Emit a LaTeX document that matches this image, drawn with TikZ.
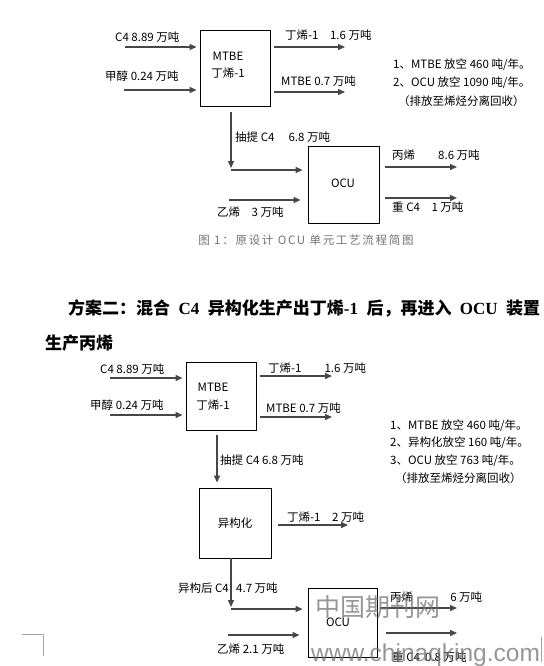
\documentclass[tikz,border=0pt]{standalone}
\usepackage{fontspec}
\setmainfont{Noto Sans CJK SC}
\newfontfamily\cjk{Noto Sans CJK SC}
\newfontfamily\capfont[LetterSpace=15]{Noto Sans CJK SC}
\newfontfamily\lserif{Liberation Serif}
\newfontfamily\wmfont{Liberation Sans}
\usetikzlibrary{arrows.meta}
\tikzset{
  txt/.style={inner sep=0pt, font=\cjk\fontsize{11.5}{13}\selectfont},
  box/.style={draw=black, line width=0.9pt, inner sep=0pt},
  flow/.style={draw=black!72, line width=1.4pt, -{Triangle[length=7pt,width=6pt]}},
  cornermark/.style={draw=black!35, line width=0.6pt},
  hd/.style={inner sep=0pt, font=\fontsize{17}{19}\selectfont\bfseries},
  wm/.style={inner sep=0pt, text=black!55, text opacity=0.75}
}
\begin{document}
\begin{tikzpicture}[x=1pt,y=-1pt]
\useasboundingbox (0,0) rectangle (543,666);
\fill[white] (0,0) rectangle (543,666);

% ===================== Figure 1 =====================
\node[box, minimum width=70pt, minimum height=76pt] (mtbeA) at (235,68) {};
\node[txt] (mtbeAt1) at (228,56) {MTBE};
\node[txt] (mtbeAt2) at (228,73) {丁烯-1};

\coordinate (aIn1) at (125,47);
\coordinate (aIn2) at (124,90);
\draw[flow, shorten >=3pt] (aIn1) -- (aIn1 -| mtbeA.west);
\draw[flow, shorten >=3pt] (aIn2) -- (aIn2 -| mtbeA.west);
\node[txt, anchor=west] (aL1) at (115,37) {C4 8.89 万吨};
\node[txt, anchor=west] (aL2) at (105,76) {甲醇 0.24 万吨};

\coordinate (aOut1) at (345,47);
\coordinate (aOut2) at (345,92);
\draw[flow, shorten <=4pt] (aOut1 -| mtbeA.east) -- (aOut1);
\draw[flow, shorten <=4pt] (aOut2 -| mtbeA.east) -- (aOut2);
\node[txt, anchor=west] (aL3) at (285,35) {丁烯-1\quad 1.6 万吨};
\node[txt, anchor=west] (aL4) at (281,81) {MTBE 0.7 万吨};

\node[box, minimum width=71pt, minimum height=77pt] (ocuA) at (343.5,184.5) {};
\node[txt] (ocuAt) at (343,183) {OCU};

\coordinate (aV1) at (231,112);
\coordinate (aV2) at (231,168);
\draw[flow] (aV1) -- (aV2);
\coordinate (aH1) at (231,170);
\draw[flow, shorten >=5pt] (aH1) -- (aH1 -| ocuA.west);
\node[txt, anchor=west] (aL5) at (235,137) {抽提 C4\quad\ 6.8 万吨};

\coordinate (aE) at (229,200);
\draw[flow, shorten >=7pt] (aE) -- (aE -| ocuA.west);
\node[txt, anchor=west] (aL6) at (217,212) {乙烯\quad 3 万吨};

\coordinate (aP) at (457,167);
\coordinate (aQ) at (457,198);
\draw[flow, shorten <=6pt] (aP -| ocuA.east) -- (aP);
\draw[flow, shorten <=6pt] (aQ -| ocuA.east) -- (aQ);
\node[txt, anchor=west] (aL7) at (392,155) {丙烯\qquad 8.6 万吨};
\node[txt, anchor=west] (aL8) at (392,207) {重 C4\quad 1 万吨};

\node[inner sep=0pt, text=black!55, font=\capfont\fontsize{11.5}{13}\selectfont] (capA) at (306,240) {图 1：原设计 OCU 单元工艺流程简图};

\node[txt, anchor=west] (nA1) at (393,65) {1、MTBE 放空 460 吨/年。};
\node[txt, anchor=west] (nA2) at (393,83) {2、OCU 放空 1090 吨/年。};
\node[txt, anchor=west] (nA3) at (398,101) {（排放至烯烃分离回收）};

% ===================== Heading =====================
\node[hd, anchor=west] (head1) at (68,308) {\makebox[472pt][s]{\cjk 方案二：混合 {\lserif C4} 异构化生产出丁烯{\lserif -1} 后，再进入 {\lserif OCU} 装置}};
\node[hd, anchor=west] (head2) at (45,343) {\cjk 生产丙烯};

% ===================== Figure 2 =====================
\node[box, minimum width=70pt, minimum height=68pt] (mtbeB) at (221,396) {};
\node[txt] (mtbeBt1) at (213,387) {MTBE};
\node[txt] (mtbeBt2) at (213,405) {丁烯-1};

\coordinate (bIn1) at (110,378);
\coordinate (bIn2) at (110,415);
\draw[flow, shorten >=3pt] (bIn1) -- (bIn1 -| mtbeB.west);
\draw[flow, shorten >=3pt] (bIn2) -- (bIn2 -| mtbeB.west);
\node[txt, anchor=west] (bL1) at (100,369) {C4 8.89 万吨};
\node[txt, anchor=west] (bL2) at (90,405) {甲醇 0.24 万吨};

\coordinate (bOut1) at (332,376);
\coordinate (bOut2) at (332,417);
\draw[flow, shorten <=4pt] (bOut1 -| mtbeB.east) -- (bOut1);
\draw[flow, shorten <=4pt] (bOut2 -| mtbeB.east) -- (bOut2);
\node[txt, anchor=west] (bL3) at (268,368) {丁烯-1\qquad 1.6 万吨};
\node[txt, anchor=west] (bL4) at (266,408) {MTBE 0.7 万吨};

\node[box, minimum width=72pt, minimum height=70pt] (iso) at (235,523) {};
\node[txt] (isot) at (235,523) {异构化};

\coordinate (bV1) at (217,435);
\draw[flow, shorten >=5pt] (bV1) -- (bV1 |- iso.north);
\node[txt, anchor=west] (bL5) at (220,460) {抽提 C4 6.8 万吨};

\coordinate (bIso) at (348,525);
\draw[flow, shorten <=7pt] (bIso -| iso.east) -- (bIso);
\node[txt, anchor=west] (bL6) at (287,517) {丁烯-1\quad 2 万吨};

\node[box, minimum width=69pt, minimum height=69pt] (ocuB) at (342.5,622.5) {};
\node[txt] (ocuBt) at (338,622) {OCU};

\coordinate (bV2) at (231,607);
\draw[flow] (bV2 |- iso.south) -- (bV2);
\coordinate (bH) at (231,609);
\draw[flow, shorten >=5pt] (bH) -- (bH -| ocuB.west);
\node[txt, anchor=east] (bL7) at (229,588) {异构后 C4};
\node[txt, anchor=west] (bL8) at (236,588) {4.7 万吨};

\coordinate (bE) at (228,635);
\draw[flow, shorten >=8pt] (bE) -- (bE -| ocuB.west);
\node[txt, anchor=west] (bL9) at (217,649) {乙烯\ 2.1 万吨};

\coordinate (bP) at (457,608);
\coordinate (bQ) at (457,633);
\draw[flow, shorten <=3pt] (bP -| ocuB.east) -- (bP);
\draw[flow, shorten <=9pt] (bQ -| ocuB.east) -- (bQ);
\node[txt, anchor=west] (bL10) at (390,597) {丙烯\qquad\quad\ 6 万吨};
\node[txt, anchor=west] (bL11) at (392,657) {重 C4\ \ 0.8 万吨};

\node[txt, anchor=west] (nB1) at (390,426) {1、MTBE 放空 460 吨/年。};
\node[txt, anchor=west] (nB2) at (390,443) {2、异构化放空 160 吨/年。};
\node[txt, anchor=west] (nB3) at (390,461) {3、OCU 放空 763 吨/年。};
\node[txt, anchor=west] (nB4) at (395,478) {（排放至烯烃分离回收）};

% corner marks
\coordinate (cm1) at (22,634);
\coordinate (cm2) at (43,634);
\coordinate (cm3) at (43,656);
\draw[cornermark] (cm1) -- (cm2) -- (cm3);
\coordinate (cm4) at (541,637);
\coordinate (cm5) at (541,662);
\draw[cornermark] (cm4) -- (cm5);

% watermark
\node[wm, font=\cjk\fontsize{25}{27}\selectfont] (wm1) at (378,607) {中国期刊网};
\node[wm, anchor=west, font=\wmfont\fontsize{24.5}{27}\selectfont] (wm2) at (311,655) {www.chinaqking.com};
\end{tikzpicture}
\end{document}
